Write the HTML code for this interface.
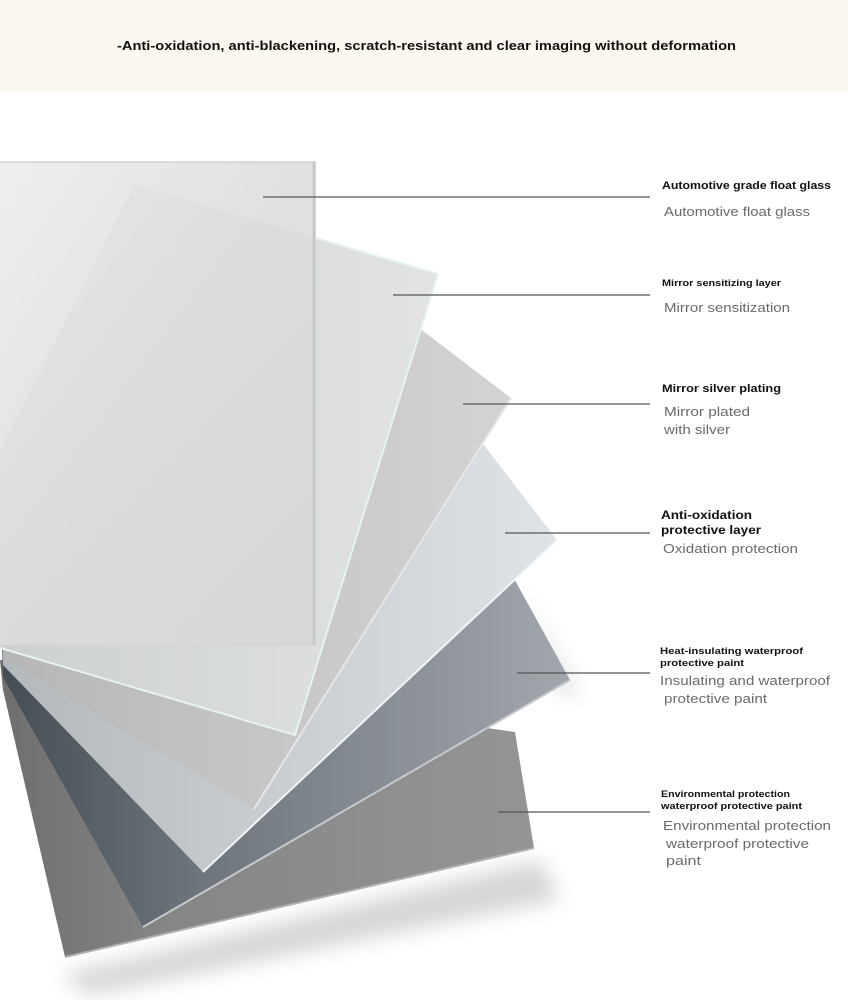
<!DOCTYPE html>
<html><head><meta charset="utf-8"><style>
html,body{margin:0;padding:0;background:#fff;}
svg{display:block;}
text{font-family:"Liberation Sans",sans-serif;}
.b{font-weight:bold;fill:#111;}
.g{fill:#6a6a6a;}
</style></head><body>
<svg width="848" height="1000" viewBox="0 0 848 1000" xmlns="http://www.w3.org/2000/svg">
<defs>
<linearGradient id="g6" x1="0" y1="0" x2="1" y2="0"><stop offset="0" stop-color="#6e6e6e"/><stop offset="0.3" stop-color="#858585"/><stop offset="1" stop-color="#959595"/></linearGradient>
<linearGradient id="g5" x1="0" y1="0" x2="1" y2="0"><stop offset="0" stop-color="#464c54"/><stop offset="0.35" stop-color="#6f757d"/><stop offset="1" stop-color="#a2a7ad"/></linearGradient>
<linearGradient id="g4" x1="0" y1="0" x2="1" y2="0"><stop offset="0" stop-color="#b3b8bc"/><stop offset="1" stop-color="#e0e3e6"/></linearGradient>
<linearGradient id="g3" x1="0" y1="0" x2="1" y2="0"><stop offset="0" stop-color="#b6b6b6"/><stop offset="1" stop-color="#d4d4d4"/></linearGradient>
<linearGradient id="g2" x1="0" y1="0" x2="1" y2="0"><stop offset="0" stop-color="#cdd0d0"/><stop offset="1" stop-color="#e2e4e4"/></linearGradient>
<linearGradient id="g1" x1="0" y1="0" x2="1" y2="1"><stop offset="0" stop-color="#ececec"/><stop offset="0.5" stop-color="#dcdcdc"/><stop offset="1" stop-color="#d6d6d6"/></linearGradient>
<filter id="sh" x="-20%" y="-20%" width="140%" height="140%"><feGaussianBlur stdDeviation="10"/></filter>
</defs>
<rect x="0" y="0" width="848" height="92" fill="#fcf8f0"/>
<text x="117" y="50" class="b" font-size="13" textLength="619" lengthAdjust="spacingAndGlyphs" fill="#2a1a2a">-Anti-oxidation, anti-blackening, scratch-resistant and clear imaging without deformation</text>

<polygon points="60,975 540,860 560,900 90,995" fill="#d6d6d6" filter="url(#sh)"/>
<polygon points="520,590 580,690 560,700" fill="#e6e6e6" filter="url(#sh)"/>
<!-- sheet 6 -->
<polygon points="0,660 515,732 534,848 65,957 3,690" fill="url(#g6)"/>
<line x1="65" y1="957" x2="534" y2="848" stroke="#b0b0b0" stroke-width="2"/>
<!-- sheet 5 -->
<polygon points="0,600 417,403 570,680 143,927 3,677" fill="url(#g5)"/>
<line x1="143" y1="927" x2="570" y2="680" stroke="#c4c9ce" stroke-width="2"/>
<!-- sheet 4 -->
<polygon points="0,560 380,310 557,540 203,872 3,665" fill="url(#g4)"/>
<line x1="203" y1="872" x2="557" y2="540" stroke="#f2f5f7" stroke-width="2"/>
<!-- sheet 3 -->
<polygon points="0,520 310,245 511,398 254,809 3,658" fill="url(#g3)"/>
<line x1="254" y1="809" x2="511" y2="398" stroke="#e6e6e6" stroke-width="2"/>
<!-- sheet 2 -->
<polygon points="0,450 134,184 438,274 295,735 0,648" fill="url(#g2)"/>
<polyline points="134,184 438,274 295,735 0,648" fill="none" stroke="#e6f3f1" stroke-width="2"/>
<!-- sheet 1 -->
<rect x="0" y="162" width="316" height="483" fill="url(#g1)" opacity="0.88"/>
<line x1="0" y1="162" x2="316" y2="162" stroke="#cfd2d2" stroke-width="1.5"/>
<line x1="314" y1="162" x2="314" y2="645" stroke="#c3c9c9" stroke-width="2.5"/>
<line x1="0" y1="645" x2="316" y2="645" stroke="#d0d2d2" stroke-width="1"/>

<g stroke="#555" stroke-width="1.3">
<line x1="263" y1="197" x2="650" y2="197"/>
<line x1="393" y1="295" x2="650" y2="295"/>
<line x1="463" y1="404" x2="650" y2="404"/>
<line x1="505" y1="533" x2="650" y2="533"/>
<line x1="517" y1="673" x2="650" y2="673"/>
<line x1="498" y1="812" x2="650" y2="812"/>
</g>

<text x="662" y="189" class="b" font-size="11" textLength="169" lengthAdjust="spacingAndGlyphs">Automotive grade float glass</text>
<text x="664" y="216" class="g" font-size="13" textLength="146" lengthAdjust="spacingAndGlyphs">Automotive float glass</text>

<text x="662" y="286" class="b" font-size="9" textLength="119" lengthAdjust="spacingAndGlyphs">Mirror sensitizing layer</text>
<text x="664" y="312" class="g" font-size="13" textLength="126" lengthAdjust="spacingAndGlyphs">Mirror sensitization</text>

<text x="662" y="392" class="b" font-size="11" textLength="119" lengthAdjust="spacingAndGlyphs">Mirror silver plating</text>
<text x="664" y="416" class="g" font-size="13" textLength="86" lengthAdjust="spacingAndGlyphs">Mirror plated</text>
<text x="664" y="434" class="g" font-size="13" textLength="66" lengthAdjust="spacingAndGlyphs">with silver</text>

<text x="661" y="519" class="b" font-size="12" textLength="91" lengthAdjust="spacingAndGlyphs">Anti-oxidation</text>
<text x="661" y="534" class="b" font-size="12" textLength="100" lengthAdjust="spacingAndGlyphs">protective layer</text>
<text x="663" y="553" class="g" font-size="13" textLength="135" lengthAdjust="spacingAndGlyphs">Oxidation protection</text>

<text x="660" y="654" class="b" font-size="9" textLength="143" lengthAdjust="spacingAndGlyphs">Heat-insulating waterproof</text>
<text x="660" y="666" class="b" font-size="9" textLength="84" lengthAdjust="spacingAndGlyphs">protective paint</text>
<text x="660" y="685" class="g" font-size="13" textLength="170" lengthAdjust="spacingAndGlyphs">Insulating and waterproof</text>
<text x="664" y="703" class="g" font-size="13" textLength="103" lengthAdjust="spacingAndGlyphs">protective paint</text>

<text x="661" y="797" class="b" font-size="9" textLength="129" lengthAdjust="spacingAndGlyphs">Environmental protection</text>
<text x="661" y="809" class="b" font-size="9" textLength="141" lengthAdjust="spacingAndGlyphs">waterproof protective paint</text>
<text x="663" y="830" class="g" font-size="13" textLength="168" lengthAdjust="spacingAndGlyphs">Environmental protection</text>
<text x="666" y="848" class="g" font-size="13" textLength="143" lengthAdjust="spacingAndGlyphs">waterproof protective</text>
<text x="666" y="865" class="g" font-size="13" textLength="35" lengthAdjust="spacingAndGlyphs">paint</text>
</svg>
</body></html>
